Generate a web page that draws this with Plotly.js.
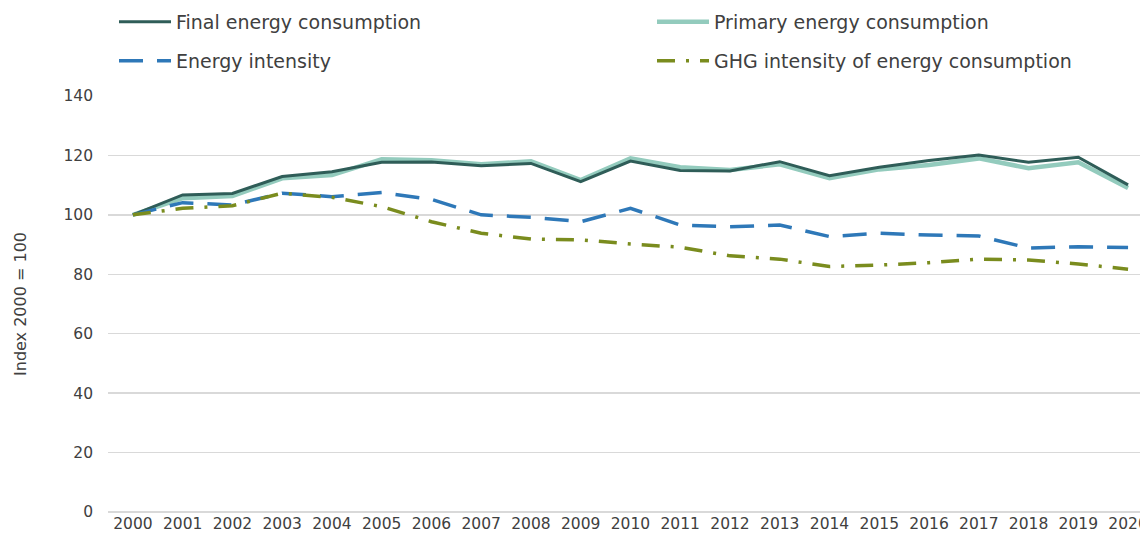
<!DOCTYPE html>
<html>
<head>
<meta charset="utf-8">
<script src="https://cdn.plot.ly/plotly-3.0.1.min.js"></script>
<style>
  html, body { margin: 0; padding: 0; background: #fff; }
  #chart { width: 1140px; height: 542px; }
</style>
</head>
<body>
<div id="chart"></div>
<script>
const years = ["2000", "2001", "2002", "2003", "2004", "2005", "2006", "2007", "2008", "2009", "2010",
               "2011", "2012", "2013", "2014", "2015", "2016", "2017", "2018", "2019", "2020"];

const finalEnergy = [100, 106.7, 107.2, 112.9, 114.5, 117.7, 117.8, 116.5, 117.3, 111.2, 118.1,
                     114.9, 114.8, 117.9, 113.2, 116.0, 118.3, 120.1, 117.7, 119.4, 110.1];
const primaryEnergy = [100, 105.6, 106.3, 112.3, 113.4, 118.7, 118.4, 117.0, 118.0, 111.7, 119.0,
                       116.0, 115.1, 117.0, 112.3, 115.3, 116.8, 119.0, 115.7, 117.7, 109.0];
const energyIntensity = [100, 104.1, 103.3, 107.3, 106.1, 107.5, 105.2, 100.0, 99.2, 97.7, 102.2,
                         96.6, 96.0, 96.6, 92.7, 93.8, 93.2, 92.9, 88.8, 89.3, 89.0];
const ghgIntensity = [100, 102.2, 103.1, 107.3, 105.9, 102.8, 97.7, 93.8, 91.9, 91.6, 90.2,
                      89.1, 86.2, 85.1, 82.6, 83.1, 83.9, 85.1, 84.8, 83.5, 81.7];

const txt = "#404040";
const fontFam = "'DejaVu Sans', sans-serif";

var traces = [
    {
        x: years, y: primaryEnergy, name: "Primary energy consumption",
        mode: "lines", line: {color: "#93cbbd", width: 4.5},
        legend: "legend2"
    },
    {
        x: years, y: finalEnergy, name: "Final energy consumption",
        mode: "lines", line: {color: "#2f5d58", width: 3},
        legend: "legend"
    },
    {
        x: years, y: energyIntensity, name: "Energy intensity",
        mode: "lines", line: {color: "#2e78b8", width: 3.5, dash: "24px,14px"},
        legend: "legend3"
    },
    {
        x: years, y: ghgIntensity, name: "GHG intensity of energy consumption",
        mode: "lines", line: {color: "#7a8c1e", width: 3.5, dash: "18px,11px,3px,11px"},
        legend: "legend4"
    }
];

// one legend per entry so the 2x2 grid sits where the reference has it
function legendAt(px, py) {
    return {
        orientation: "h",
        xref: "container", yref: "container",
        xanchor: "left", yanchor: "middle",
        x: px / 1140, y: 1 - py / 542,
        itemwidth: 52,
        font: {family: fontFam, size: 19, color: txt},
        bgcolor: "rgba(0,0,0,0)"
    };
}

var layout = {
    width: 1140,
    height: 542,
    paper_bgcolor: "#ffffff",
    plot_bgcolor: "#ffffff",
    font: {family: fontFam, size: 15, color: txt},
    margin: {l: 108, r: 0, t: 96, b: 30, pad: 0},
    showlegend: true,
    legend: legendAt(114, 22),
    legend2: legendAt(652, 22),
    legend3: legendAt(114, 61),
    legend4: legendAt(652, 61),
    xaxis: {
        type: "category",
        range: [-0.5, 20.24],
        showgrid: false,
        zeroline: false,
        showline: false,
        ticks: "",
        tickfont: {family: fontFam, size: 15.5, color: txt},
        fixedrange: true
    },
    yaxis: {
        range: [0, 140],
        dtick: 20,
        showgrid: true,
        gridcolor: "#d9d9d9",
        gridwidth: 1.5,
        zeroline: true,
        zerolinecolor: "#d9d9d9",
        zerolinewidth: 1.5,
        showline: false,
        ticks: "",
        ticklabelstandoff: 14,
        tickfont: {family: fontFam, size: 15.5, color: txt},
        title: {text: "Index 2000 = 100", font: {family: fontFam, size: 16, color: txt}, standoff: 32},
        fixedrange: true
    }
};

Plotly.newPlot("chart", traces, layout, {displayModeBar: false, staticPlot: true});
</script>
</body>
</html>
